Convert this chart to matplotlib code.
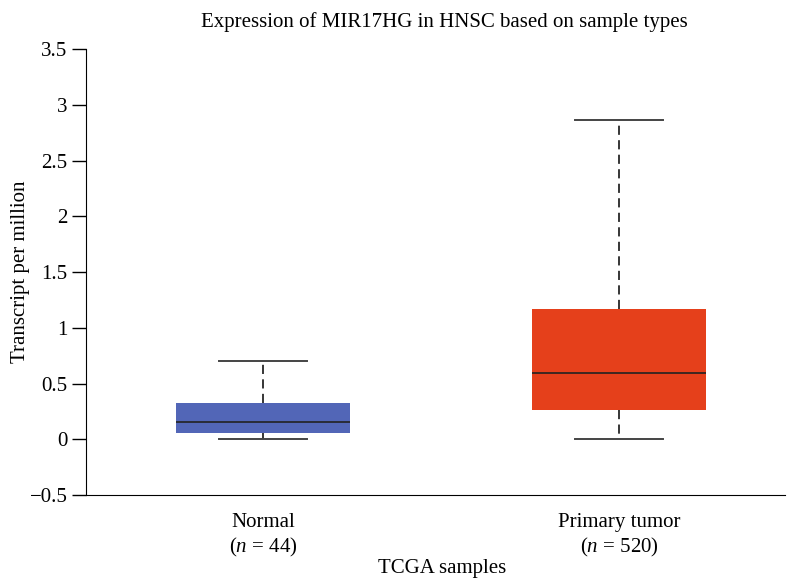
import matplotlib
matplotlib.use("Agg")
import matplotlib.pyplot as plt
from matplotlib.ticker import FuncFormatter

plt.rcParams["font.family"] = "Liberation Serif"
plt.rcParams["mathtext.fontset"] = "custom"
plt.rcParams["mathtext.rm"] = "Liberation Serif"
plt.rcParams["mathtext.it"] = "Liberation Serif:italic"

# valores
grupos = ["Normal", "Primary tumor"]
n_muestras = [44, 520]
minimos = [0.0, 0.0]
q1 = [0.055, 0.265]
medianas = [0.158, 0.595]
q3 = [0.327, 1.168]
maximos = [0.705, 2.866]
colores = ["#5266b7", "#e5401b"]

fs = 15

fig = plt.figure(figsize=(7.88, 5.8), dpi=100)
ax = fig.add_axes([0.1088, 0.1466, 0.8872, 0.7684])

estadisticas = []
for i in range(len(grupos)):
    estadisticas.append({
        "whislo": minimos[i],
        "q1": q1[i],
        "med": medianas[i],
        "q3": q3[i],
        "whishi": maximos[i],
        "fliers": [],
    })

cajas = ax.bxp(
    estadisticas,
    positions=[1, 2],
    widths=0.49,
    patch_artist=True,
    showfliers=False,
    boxprops={"linewidth": 0},
    medianprops={"color": "#222222", "linewidth": 1.2},
    whiskerprops={"color": "black", "linewidth": 1.1, "linestyle": (0, (6, 3.5))},
    capprops={"color": "#444444", "linewidth": 1.4},
    capwidths=0.245,
)

for caja, color in zip(cajas["boxes"], colores):
    caja.set_facecolor(color)
    caja.set_edgecolor(color)

ax.set_xlim(0.502, 2.466)
ax.set_ylim(-0.5, 3.5)
ax.set_yticks([-0.5, 0, 0.5, 1, 1.5, 2, 2.5, 3, 3.5])
ax.yaxis.set_major_formatter(
    FuncFormatter(lambda v, p: ("%g" % v).replace("-", "\u2212"))
)

etiquetas = []
for g, n in zip(grupos, n_muestras):
    etiquetas.append(g + "\n($\\mathit{n}$ = " + str(n) + ")")
ax.set_xticks([1, 2])
ax.set_xticklabels(etiquetas, fontsize=fs, linespacing=1.25)
ax.tick_params(axis="x", length=0, pad=13)
ax.tick_params(axis="y", length=10, width=1, labelsize=fs, pad=3)

ax.spines["top"].set_visible(False)
ax.spines["right"].set_visible(False)

ax.set_ylabel("Transcript per million", fontsize=fs, va="center")
ax.yaxis.set_label_coords(-0.094, 0.5)
ax.set_xlabel("TCGA samples", fontsize=fs, va="center")
ax.xaxis.set_label_coords(0.51, -0.164)
ax.set_title("Expression of MIR17HG in HNSC based on sample types",
             fontsize=fs, pad=16, x=0.513)

fig.savefig("out.png", dpi=100)
